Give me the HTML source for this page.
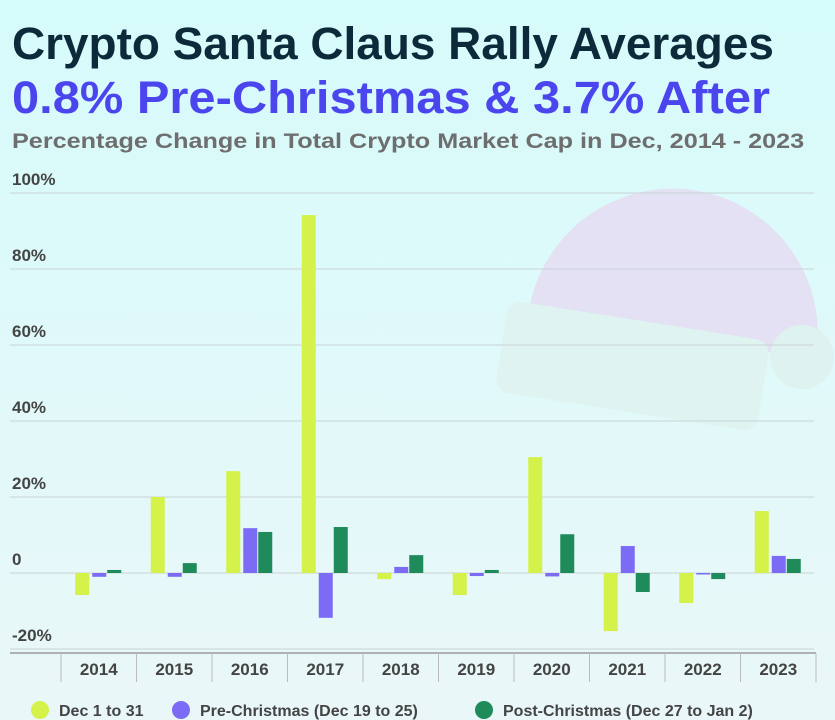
<!DOCTYPE html>
<html><head><meta charset="utf-8"><style>
html,body{margin:0;padding:0}
body{width:835px;height:720px;overflow:hidden;background:linear-gradient(#d6fbfb,#eaf7f8);font-family:"Liberation Sans",Arial,sans-serif;position:relative}
.t{position:absolute;left:12px;font-weight:bold;white-space:nowrap;transform-origin:0 0}
</style></head><body>
<svg id="c" width="835" height="720" style="position:absolute;left:0;top:0">
<g>
<path d="M528,318 A145,145 0 0 1 817,350 L768,352 L520,318 Z" fill="#e3e1f3"/>
<rect x="500" y="320" width="265" height="92" rx="14" fill="#dff3f1" transform="rotate(9 632 366)"/>
<circle cx="802" cy="357" r="32" fill="#def2ef"/>
</g>
</svg>
<div class="t" style="top:18px;font-size:45px;color:#0d2a3a;transform:scaleX(1.02)">Crypto Santa Claus Rally Averages</div>
<div class="t" style="top:72px;font-size:45px;color:#4b45ee;transform:scaleX(1.085)">0.8% Pre-Christmas &amp; 3.7% After</div>
<div class="t" style="top:130px;font-size:21px;color:#6e6e6e;transform:scaleX(1.2)">Percentage Change in Total Crypto Market Cap in Dec, 2014 - 2023</div>
<script>
const years=["2014","2015","2016","2017","2018","2019","2020","2021","2022","2023"];
const dec=[-5.8,20,26.8,94.2,-1.6,-5.8,30.5,-15.3,-7.9,16.3];
const pre=[-1,-1,11.8,-11.8,1.6,-0.8,-0.9,7.1,0,4.5];
const post=[0.8,2.6,10.8,12.1,4.7,0.8,10.2,-5,-1.6,3.7];
const ticks=[100,80,60,40,20,0,-20];
const tickLabels=["100%","80%","60%","40%","20%","0","-20%"];
const svg=document.getElementById('c');const NS='http://www.w3.org/2000/svg';
function y(v){return 573-v*3.8;}
const x0=61,cw=75.5;
function cx(i){return x0+cw*(i+0.5);}
function el(t,a,p){const e=document.createElementNS(NS,t);for(const k in a)e.setAttribute(k,a[k]);(p||svg).appendChild(e);return e;}
ticks.forEach((t,i)=>{
 const l=el('line',{x1:10,x2:814,y1:y(t),y2:y(t),stroke:'#c9d3d5','stroke-width':1});
 
 
 const tx=el('text',{x:12,y:y(t)-8,'font-size':17,'font-weight':'bold',fill:'#444'});tx.textContent=tickLabels[i];
 
 
});
const ax=el('line',{x1:10,x2:816,y1:653,y2:653,stroke:'#999','stroke-width':1.5});


for(let i=0;i<=years.length;i++){
 const s=el('line',{x1:x0+cw*i,x2:x0+cw*i,y1:653,y2:682,stroke:'#bbb','stroke-width':1});
 
 
}
const series=[[dec,'#d4f24a',-23.5,'bar-dec'],[pre,'#7c6cf5',-6.5,'bar-pre-christmas'],[post,'#1f8a5a',8.5,'bar-post-christmas']];
years.forEach((yr,i)=>{
 series.forEach(s=>{
  const v=s[0][i];const top=Math.min(y(v),y(0));const h=Math.max(Math.abs(y(v)-y(0)),1.5);
  const r=el('rect',{x:cx(i)+s[2],y:top,width:14,height:h,fill:s[1]});
  
  
 });
 const t=el('text',{x:cx(i),y:675,'text-anchor':'middle','font-size':17,'font-weight':'bold',fill:'#444'});t.textContent=yr;
 
 
});
const leg=[['Dec 1 to 31','#d4f24a',40],['Pre-Christmas (Dec 19 to 25)','#7c6cf5',181],['Post-Christmas (Dec 27 to Jan 2)','#1f8a5a',484]];
leg.forEach(l=>{
 const g=el('g',{});
 
 
 el('circle',{cx:l[2],cy:710,r:9,fill:l[1]},g);
 const t=el('text',{x:l[2]+19,y:716,'font-size':16,'font-weight':'bold',fill:'#444'},g);t.textContent=l[0];
});
</script>
</body></html>
